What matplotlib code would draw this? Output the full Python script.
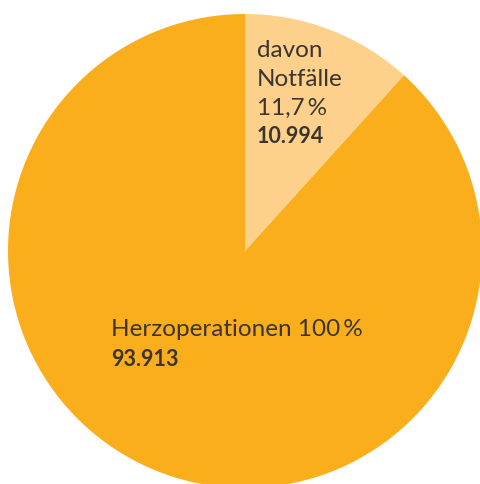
import matplotlib.pyplot as plt

# values
total_ops = 93913
emergencies = 10994
share_pct = 11.7
colors = ["#FDD18C", "#FAAE1C"]

fig = plt.figure(figsize=(4.8, 4.84), dpi=100)
ax = fig.add_axes([0, 0, 1, 1])

sizes = [emergencies, total_ops - emergencies]
ax.pie(sizes, colors=colors, startangle=90, counterclock=False,
       center=(245, 484 - 251), radius=237, frame=True,
       wedgeprops=dict(linewidth=0))
ax.set_xlim(0, 480)
ax.set_ylim(0, 484)
ax.set_aspect("equal")
ax.axis("off")

txt = "#3a3530"
fam = ["Lato", "DejaVu Sans"]

def pct(v):
    return f"{v:.1f}".replace(".", ",") + "\u2009%"

def num(v):
    return f"{v:,}".replace(",", ".")

# small slice label
lines = ["davon", "Notfälle", pct(share_pct)]
ys = [57, 86, 115]
for s, y in zip(lines, ys):
    ax.text(257, 484 - y, s, ha="left", va="baseline", family=fam,
            fontsize=17.5, color=txt)
ax.text(257, 484 - 143, num(emergencies), ha="left", va="baseline",
        family=fam, fontsize=15.5, fontweight="bold", color=txt)

# big slice label
ax.text(111, 484 - 336, "Herzoperationen 100\u2009%", ha="left", va="baseline",
        family=fam, fontsize=17.5, color=txt)
ax.text(111, 484 - 366, num(total_ops), ha="left", va="baseline",
        family=fam, fontsize=15.5, fontweight="bold", color=txt)

fig.savefig("out.png", dpi=100)
